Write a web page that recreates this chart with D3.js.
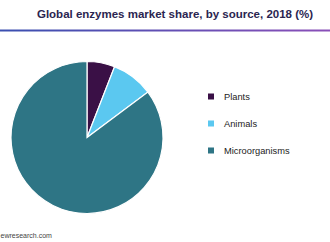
<!DOCTYPE html>
<html>
<head>
<meta charset="utf-8">
<style>
body { margin: 0; background: #fff; }
svg { display: block; font-family: "Liberation Sans", Arial, sans-serif; }
</style>
<script src="https://d3js.org/d3.v7.min.js"></script>
</head>
<body>
<div id="chart"></div>
<script>
// data
const sources = ["Plants", "Animals", "Microorganisms"];
const shares = [5.9, 8.9, 85.2];
const colors = ["#3a1046", "#5bc8f0", "#2e7585"];

const width = 330, height = 242;
const svg = d3.select("#chart").append("svg")
    .attr("width", width)
    .attr("height", height);

// title + gradient rule
svg.append("text")
    .attr("x", 175).attr("y", 18)
    .attr("text-anchor", "middle")
    .style("font-size", "11.5px")
    .style("font-weight", "bold")
    .style("fill", "#2b2550")
    .text("Global enzymes market share, by source, 2018 (%)");

const grad = svg.append("defs").append("linearGradient").attr("id", "rule");
grad.append("stop").attr("offset", "0%").attr("stop-color", "#3a4fb0");
grad.append("stop").attr("offset", "100%").attr("stop-color", "#8a4fb8");
svg.append("rect")
    .attr("x", 0).attr("y", 29.5)
    .attr("width", width).attr("height", 2)
    .attr("fill", "url(#rule)");

// pie
const pie = d3.pie().sort(null).value(d => d);
const arc = d3.arc().innerRadius(0).outerRadius(76);
const g = svg.append("g").attr("transform", "translate(87,137.5)");
g.selectAll("path")
    .data(pie(shares))
    .join("path")
    .attr("d", arc)
    .attr("fill", (d, i) => colors[i])
    .attr("stroke", "#fff")
    .attr("stroke-width", 1.2);

// legend
const y = d3.scalePoint().domain(sources).range([97, 151]);
const legend = svg.append("g");
legend.selectAll("rect")
    .data(sources)
    .join("rect")
    .attr("x", 208).attr("y", d => y(d) - 3.5)
    .attr("width", 6).attr("height", 6)
    .attr("fill", (d, i) => colors[i]);
legend.selectAll("text")
    .data(sources)
    .join("text")
    .attr("x", 224).attr("y", d => y(d) + 3)
    .style("font-size", "9.3px")
    .style("fill", "#222")
    .text(d => d);

// source line (only its tail is visible in the original)
svg.append("text")
    .attr("x", 0.5).attr("y", 238)
    .style("font-size", "7px")
    .style("fill", "#444")
    .text("ewresearch.com");
</script>
</body>
</html>
